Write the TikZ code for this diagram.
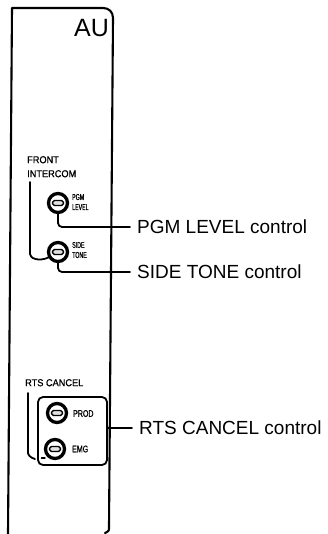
\documentclass[tikz,border=0pt]{standalone}
\usepackage{fontspec}
\setmainfont{Liberation Sans}
\newfontfamily\condfont[FakeStretch=0.62, FakeBold=1]{Liberation Sans}
\newfontfamily\semifont[FakeStretch=0.74, FakeBold=1]{Liberation Sans}
\newfontfamily\headfont[FakeStretch=0.92, FakeBold=0.8]{Liberation Sans}
\usetikzlibrary{positioning}

\begin{document}
\begin{tikzpicture}[x=1pt, y=-1pt, line join=round, line cap=round,
  panel/.style={line width=2.1pt},
  knob/.style={circle, draw, line width=3.3pt, minimum size=19pt, inner sep=0pt},
  slot/.style={draw, rounded corners=1.8pt, line width=1.4pt, fill=black!12,
    minimum width=11pt, minimum height=5pt, inner sep=0pt},
  tag/.style={font=\fontsize{8.5}{10}\selectfont\condfont, align=left, anchor=west, inner sep=0pt},
  ptag/.style={font=\fontsize{9.5}{10}\selectfont\semifont, anchor=west, inner sep=0pt},
  head/.style={font=\fontsize{10}{14}\selectfont\headfont, align=left, anchor=north west, inner sep=0pt},
  call/.style={font=\fontsize{19}{20}\selectfont, anchor=west, inner xsep=7pt, inner ysep=0pt},
  lead/.style={line width=1.8pt, rounded corners=4pt}]
  \useasboundingbox (0,0) rectangle (328,534);
  % panel outline
  \draw[panel] (8,534) -- (12,8) -- (103,8) .. controls (109,8) and (113,12) .. (113,18)
    -- (109,527) .. controls (109,531) .. (105,533);
  \node[font=\fontsize{25}{25}\selectfont, inner sep=0pt] (au) at (91.5,28) {AU};
  % front intercom
  \node[head] (front) at (27,156) {FRONT\\INTERCOM};
  \node[knob] (pgm) at (58,203) {};
  \node[slot] (pgmslot) at (pgm) {};
  \node[tag] (pgmtag) at (72,202) {PGM\\LEVEL};
  \node[knob] (side) at (58,252) {};
  \node[slot] (sideslot) at (side) {};
  \node[tag] (sidetag) at (72,250) {SIDE\\TONE};
  \coordinate (fronttop) at (30,182);
  \draw[lead] (fronttop) -- (30,250) .. controls (30,258) and (38,262) .. (side.210);
  % rts cancel
  \node[head] (rts) at (25,379) {RTS CANCEL};
  \node[draw, line width=1.8pt, rounded corners=5pt, minimum width=69pt, minimum height=68pt,
    inner sep=0pt] (rtsbox) at (72.5,431) {};
  \node[knob] (prod) at (57,413) {};
  \node[slot] (prodslot) at (prod) {};
  \node[ptag] (prodtag) at (73,413.5) {PROD};
  \node[knob] (emg) at (55,449) {};
  \node[slot] (emgslot) at (emg) {};
  \node[ptag] (emgtag) at (72,449) {EMG};
  \coordinate (rtstop) at (28,393);
  \coordinate (rtsend) at (35,459);
  \draw[lead] (rtstop) -- (28,449) .. controls (28,455) and (31,458) .. (rtsend);
  \draw[line width=1.4pt] (41.5,458) -- (45,458);
  % callouts
  \node[call] (pgmcall) at (130,227) {PGM LEVEL control};
  \node[call] (sidecall) at (130,272) {SIDE TONE control};
  \node[call] (rtscall) at (132,428) {RTS CANCEL control};
  \draw[lead] (pgm.south) |- (pgmcall.west);
  \draw[lead] (side.south) |- (sidecall.west);
  \draw[lead] (rtscall.west -| rtsbox.east) -- (rtscall.west);
\end{tikzpicture}
\end{document}
